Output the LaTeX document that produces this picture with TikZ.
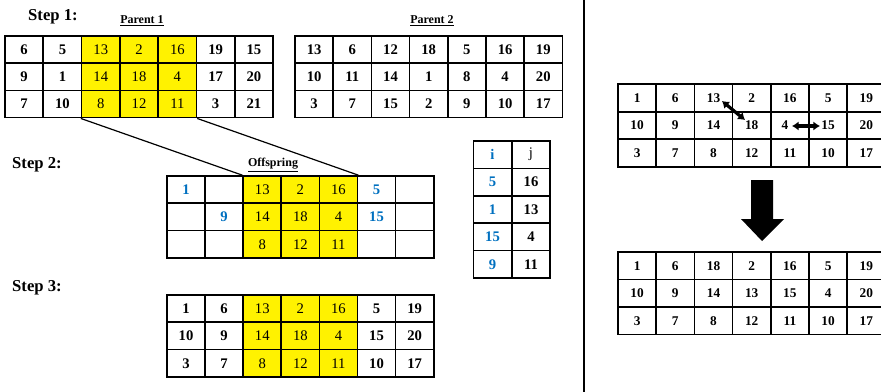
\documentclass[tikz,border=0pt]{standalone}
\usepackage{fontspec}
\setmainfont{Liberation Serif}
\usetikzlibrary{arrows.meta}
\definecolor{idxblue}{RGB}{0,112,192}
\newcommand{\bl}{\color{idxblue}}
\tikzset{
  cell/.style={draw, line width=1.2pt, minimum width=28.65pt, minimum height=20.5pt,
    inner sep=0pt, font=\fontsize{11}{12}\selectfont\bfseries},
  hl/.style={fill=yellow, font=\fontsize{11}{12}\selectfont},
  col3/.style={hl}, col4/.style={hl}, col5/.style={hl},
  smallcell/.style={cell, font=\fontsize{10}{11}\selectfont\bfseries},
  steplbl/.style={font=\fontsize{12.5}{14}\selectfont\bfseries},
  tablbl/.style={font=\fontsize{9}{10}\selectfont\bfseries},
  swaparrow/.style={line width=2.4pt, {Latex[length=5pt,width=7pt]}-{Latex[length=5pt,width=7pt]}}
}
\begin{document}
\begin{tikzpicture}[x=0.75pt, y=-0.75pt]
  \useasboundingbox (0,0) rectangle (881,392);
  \clip (0,0) rectangle (881,392);

  % step labels and table titles
  \node[steplbl] (step1) at (53,17) {Step 1:};
  \node[steplbl] (step2) at (37,165) {Step 2:};
  \node[steplbl] (step3) at (37,288) {Step 3:};
  \node[tablbl] (p1lbl) at (142,21) {\underline{Parent 1}};
  \node[tablbl] (p2lbl) at (432,21) {\underline{Parent 2}};
  \node[tablbl] (offlbl) at (273,165) {\underline{Offspring}};

  % Parent 1
  \foreach \row [count=\r] in {{6,5,13,2,16,19,15},{9,1,14,18,4,17,20},{7,10,8,12,11,3,21}}
    \foreach \v [count=\c] in \row
      \node[cell, col\c/.try] (p1-\r-\c) at ({5+38.3*(\c-0.5)}, {36+27.2*(\r-0.5)}) {\v};

  % Parent 2
  \foreach \row [count=\r] in {{13,6,12,18,5,16,19},{10,11,14,1,8,4,20},{3,7,15,2,9,10,17}}
    \foreach \v [count=\c] in \row
      \node[cell] (p2-\r-\c) at ({295+38.2*(\c-0.5)}, {36+27.2*(\r-0.5)}) {\v};

  % Offspring after crossover
  \foreach \row [count=\r] in {{{\bl 1},{},13,2,16,{\bl 5},{}},{{},{\bl 9},14,18,4,{\bl 15},{}},{{},{},8,12,11,{},{}}}
    \foreach \v [count=\c] in \row
      \node[cell, col\c/.try] (off-\r-\c) at ({167+38.1*(\c-0.5)}, {176+27.3*(\r-0.5)}) {\v};

  \draw[line width=0.9pt] (p1-3-3.south west) -- (off-1-3.north west);
  \draw[line width=0.9pt] (p1-3-5.south east) -- (off-1-5.north east);

  % mapping i -> j
  \foreach \i/\j [count=\r] in {{\bl i}/{\mdseries j},{\bl 5}/16,{\bl 1}/13,{\bl 15}/4,{\bl 9}/11} {
    \node[cell] (map-\r-1) at (492.5, {141+27.4*(\r-0.5)}) {\i};
    \node[cell] (map-\r-2) at (531, {141+27.4*(\r-0.5)}) {\j};
  }

  % Step 3 result
  \foreach \row [count=\r] in {{1,6,13,2,16,5,19},{10,9,14,18,4,15,20},{3,7,8,12,11,10,17}}
    \foreach \v [count=\c] in \row
      \node[cell, col\c/.try] (res-\r-\c) at ({167+38.1*(\c-0.5)}, {295+27.3*(\r-0.5)}) {\v};

  % divider
  \draw[line width=1.3pt] (584,0) -- (584,392);

  % mutation: before
  \foreach \row [count=\r] in {{1,6,13,2,16,5,19},{10,9,14,18,{4\hspace*{7.5pt}},15,20},{3,7,8,12,11,10,17}}
    \foreach \v [count=\c] in \row
      \node[smallcell] (mb-\r-\c) at ({618+38.2*(\c-0.5)}, {84+27.7*(\r-0.5)}) {\v};

  \coordinate (sw1a) at (722,101);
  \coordinate (sw1b) at (745,120);
  \coordinate (sw2a) at (792,126);
  \coordinate (sw2b) at (820,126);
  \draw[swaparrow] (sw1a) -- (sw1b);
  \draw[swaparrow] (sw2a) -- (sw2b);

  % big arrow
  \fill (751,180) -- (773,180) -- (773,219) -- (784,219) -- (762,241) -- (741,219) -- (751,219) -- cycle;

  % mutation: after
  \foreach \row [count=\r] in {{1,6,18,2,16,5,19},{10,9,14,13,15,4,20},{3,7,8,12,11,10,17}}
    \foreach \v [count=\c] in \row
      \node[smallcell] (ma-\r-\c) at ({618+38.2*(\c-0.5)}, {252+27.5*(\r-0.5)}) {\v};
\end{tikzpicture}
\end{document}
